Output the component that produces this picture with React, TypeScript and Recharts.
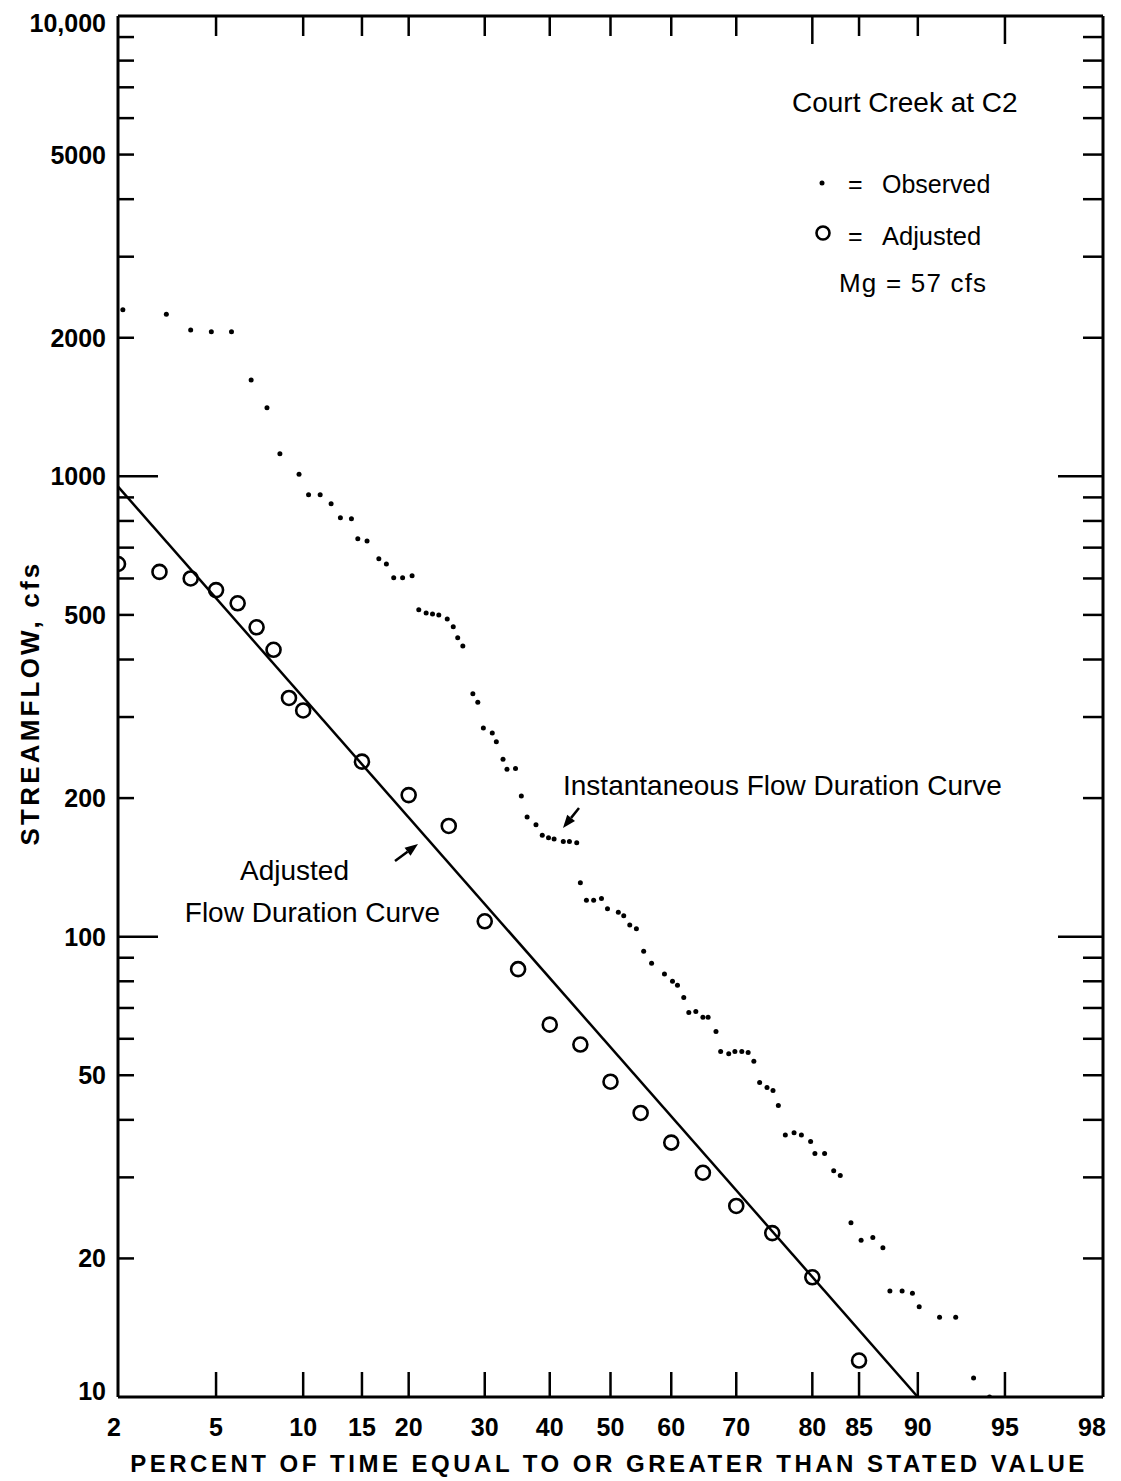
import React from "react";
import { ScatterChart, Scatter, XAxis, YAxis } from "recharts";

// percent of time scale (normal probability paper)
const xTickPct = [2, 5, 10, 15, 20, 30, 40, 50, 60, 70, 80, 85, 90, 95, 98];
const yTicks = [10, 20, 30, 40, 50, 60, 70, 80, 90, 100, 200, 300, 400, 500, 600, 700, 800, 900, 1000, 2000, 3000, 4000, 5000, 6000, 7000, 8000, 9000, 10000];
const yLabels = [10, 20, 50, 100, 200, 500, 1000, 2000, 5000, 10000];

// observed (instantaneous) flow duration points
const obsPct = [2.1, 3.2, 4.0, 4.8, 5.7, 6.7, 7.6, 8.4, 9.7, 10.4, 11.3, 12.2, 13.0, 14.0, 14.6, 15.5, 16.7, 17.5, 18.3, 19.3, 20.4, 21.2, 22.1, 22.9, 23.7, 24.8, 25.6, 26.2, 26.9, 28.3, 29.0, 29.8, 31.1, 31.7, 32.7, 33.3, 34.6, 35.5, 36.4, 37.8, 38.8, 39.8, 40.7, 42.2, 43.2, 44.4, 45.0, 46.0, 47.2, 48.5, 49.5, 51.3, 52.2, 53.2, 54.3, 55.5, 56.8, 58.9, 60.2, 61.0, 62.0, 62.8, 63.9, 65.0, 65.8, 67.0, 67.7, 68.9, 69.8, 70.8, 71.7, 72.5, 73.3, 74.3, 75.1, 75.8, 76.7, 77.8, 78.7, 79.8, 80.3, 81.4, 82.4, 83.1, 84.2, 85.2, 86.3, 87.2, 87.8, 88.8, 89.6, 90.1, 91.5, 92.5, 93.5, 94.3];
const obsFlow = [2300, 2250, 2080, 2060, 2060, 1620, 1410, 1120, 1010, 912, 912, 872, 813, 809, 732, 724, 662, 645, 602, 602, 608, 513, 505, 502, 500, 490, 471, 446, 428, 337, 323, 284, 277, 265, 243, 231, 232, 202, 182, 175, 166, 164, 163, 161, 161, 160, 131, 120, 120, 121, 115, 113, 111, 106, 104, 93, 87.5, 83, 80, 78.4, 73.8, 68.4, 68.8, 66.8, 66.8, 62.2, 56.3, 55.7, 56.3, 56.3, 56, 53.6, 48.2, 47, 46.3, 43, 37.1, 37.5, 37.1, 35.9, 33.8, 33.8, 31, 30.3, 23.9, 21.9, 22.2, 21.1, 17, 17, 16.8, 15.7, 14.9, 14.9, 11, 10];

// adjusted points
const adjPct = [2, 3, 4, 5, 6, 7, 8, 9, 10, 15, 20, 25, 30, 35, 40, 45, 50, 55, 60, 65, 70, 75, 80, 85];
const adjFlow = [645, 620, 600, 566, 530, 470, 420, 330, 310, 240, 203, 174, 108, 85, 64.4, 58.3, 48.4, 41.4, 35.7, 30.7, 26, 22.7, 18.2, 12];

// adjusted flow duration curve (straight line on this paper)
const linePct = [2, 90];
const lineFlow = [950, 10];

// inverse normal cdf (Acklam)
function probit(p: number) {
  const a = [-39.69683028665376, 220.9460984245205, -275.9285104469687, 138.357751867269, -30.66479806614716, 2.506628277459239];
  const b = [-54.47609879822406, 161.5858368580409, -155.6989798598866, 66.80131188771972, -13.28068155288572];
  const c = [-0.007784894002430293, -0.3223964580411365, -2.400758277161838, -2.549732539343734, 4.374664141464968, 2.938163982698783];
  const d = [0.007784695709041462, 0.3224671290700398, 2.445134137142996, 3.754408661907416];
  const pl = 0.02425;
  if (p < pl) {
    const q = Math.sqrt(-2 * Math.log(p));
    return (((((c[0] * q + c[1]) * q + c[2]) * q + c[3]) * q + c[4]) * q + c[5]) / ((((d[0] * q + d[1]) * q + d[2]) * q + d[3]) * q + 1);
  }
  if (p <= 1 - pl) {
    const q = p - 0.5;
    const r = q * q;
    return ((((((a[0] * r + a[1]) * r + a[2]) * r + a[3]) * r + a[4]) * r + a[5]) * q) / (((((b[0] * r + b[1]) * r + b[2]) * r + b[3]) * r + b[4]) * r + 1);
  }
  const q = Math.sqrt(-2 * Math.log(1 - p));
  return -(((((c[0] * q + c[1]) * q + c[2]) * q + c[3]) * q + c[4]) * q + c[5]) / ((((d[0] * q + d[1]) * q + d[2]) * q + d[3]) * q + 1);
}

const toZ = (pct: number) => probit(pct / 100);
const xTickZ = xTickPct.map(toZ);
const xDomain = [toZ(2), toZ(98)];

const observed = obsPct.map((p, i) => ({ z: toZ(p), flow: obsFlow[i] }));
const adjusted = adjPct.map((p, i) => ({ z: toZ(p), flow: adjFlow[i] }));
const fitLine = linePct.map((p, i) => ({ z: toZ(p), flow: lineFlow[i] }));

const FONT = "'Liberation Sans', Arial, sans-serif";
const frame = { stroke: "#000", strokeWidth: 3 };

const pctOf = (v: number) => xTickPct[xTickZ.findIndex((z) => Math.abs(z - v) < 1e-6)];

const LeftTick = ({ x, y, payload }: any) => {
  const v = payload.value;
  const long = v === 100 || v === 1000;
  const edge = v === 10 || v === 10000;
  return (
    <g>
      {!edge && <line x1={x} x2={x + (long ? 40 : 16)} y1={y} y2={y} stroke="#000" strokeWidth={2.5} />}
      {yLabels.includes(v) && (
        <text x={x - 12} y={y} dy={v === 10000 ? 16 : v === 10 ? 3 : 9} textAnchor="end" fontSize={25} fontWeight="bold" fontFamily={FONT} fill="#000">
          {v === 10000 ? "10,000" : v}
        </text>
      )}
    </g>
  );
};

const RightTick = ({ x, y, payload }: any) => {
  const v = payload.value;
  if (v === 10 || v === 10000) return <g />;
  const long = v === 100 || v === 1000;
  return <line x1={x} x2={x - (long ? 45 : 20)} y1={y} y2={y} stroke="#000" strokeWidth={2.5} />;
};

const BottomTick = ({ x, y, payload }: any) => {
  const p = pctOf(payload.value);
  const edge = p === 2 || p === 98;
  const shift = p === 98 ? -11 : p === 2 ? -4 : 0;
  return (
    <g>
      {!edge && <line x1={x} x2={x} y1={y} y2={y - 25} stroke="#000" strokeWidth={2.5} />}
      <text x={x + shift} y={y + 39} textAnchor="middle" fontSize={25} fontWeight="bold" fontFamily={FONT} fill="#000">
        {p}
      </text>
    </g>
  );
};

const TopTick = ({ x, y, payload }: any) => {
  const p = pctOf(payload.value);
  if (p === 2 || p === 98) return <g />;
  const len = p === 80 || p === 95 ? 28 : 20;
  return <line x1={x} x2={x} y1={y} y2={y + len} stroke="#000" strokeWidth={2.5} />;
};

const Dot = (props: any) => <circle cx={props.cx} cy={props.cy} r={2.5} fill="#000" />;
const Ring = (props: any) => <circle cx={props.cx} cy={props.cy} r={7} fill="none" stroke="#000" strokeWidth={2.6} />;
const NoMark = () => <g />;

const Arrow = ({ x1, y1, x2, y2 }: { x1: number; y1: number; x2: number; y2: number }) => {
  const ang = Math.atan2(y2 - y1, x2 - x1);
  const L = 13;
  const W = 5;
  const bx = x2 - L * Math.cos(ang);
  const by = y2 - L * Math.sin(ang);
  const px = -Math.sin(ang) * W;
  const py = Math.cos(ang) * W;
  return (
    <g>
      <line x1={x1} y1={y1} x2={bx} y2={by} stroke="#000" strokeWidth={2.5} />
      <polygon points={`${x2},${y2} ${bx + px},${by + py} ${bx - px},${by - py}`} fill="#000" />
    </g>
  );
};

export default function App() {
  return (
    <div style={{ position: "relative", width: 1113, height: 1473, background: "#fff" }}>
      <ScatterChart width={1113} height={1473} margin={{ top: 0, right: 0, bottom: 0, left: 0 }}>
        <XAxis
          xAxisId="b"
          type="number"
          dataKey="z"
          domain={xDomain}
          allowDataOverflow
          ticks={xTickZ}
          interval={0}
          height={84}
          tickSize={0}
          tickMargin={0}
          tick={BottomTick}
          axisLine={frame}
        />
        <XAxis
          xAxisId="t"
          orientation="top"
          type="number"
          dataKey="z"
          domain={xDomain}
          allowDataOverflow
          ticks={xTickZ}
          interval={0}
          height={8}
          tickSize={0}
          tickMargin={0}
          tick={TopTick}
          axisLine={frame}
        />
        <YAxis
          yAxisId="l"
          type="number"
          dataKey="flow"
          scale="log"
          domain={[10, 10000]}
          allowDataOverflow
          ticks={yTicks}
          interval={0}
          width={110}
          tickSize={0}
          tickMargin={0}
          tick={LeftTick}
          axisLine={frame}
        />
        <YAxis
          yAxisId="r"
          orientation="right"
          type="number"
          dataKey="flow"
          scale="log"
          domain={[10, 10000]}
          allowDataOverflow
          ticks={yTicks}
          interval={0}
          width={18}
          tickSize={0}
          tickMargin={0}
          tick={RightTick}
          axisLine={frame}
        />
        <Scatter xAxisId="t" yAxisId="r" data={[]} shape={NoMark} isAnimationActive={false} />
        <Scatter
          xAxisId="b"
          yAxisId="l"
          data={fitLine}
          line={{ stroke: "#000", strokeWidth: 2.5 }}
          shape={NoMark}
          isAnimationActive={false}
        />
        <Scatter xAxisId="b" yAxisId="l" data={observed} shape={Dot} isAnimationActive={false} />
        <Scatter xAxisId="b" yAxisId="l" data={adjusted} shape={Ring} isAnimationActive={false} />
      </ScatterChart>

      <svg
        width={1113}
        height={1473}
        style={{ position: "absolute", left: 0, top: 0, pointerEvents: "none" }}
        fontFamily={FONT}
        fill="#000"
      >
        {/* axis titles */}
        <text x={22} y={695} transform="rotate(-90 22 695)" textAnchor="middle" dominantBaseline="central" fontSize={26} fontWeight="bold" letterSpacing={3.2}>
          STREAMFLOW, cfs
        </text>
        <text x={601} y={1464} textAnchor="middle" fontSize={24} fontWeight="bold" letterSpacing={3.5}>
          PERCENT OF TIME EQUAL TO OR GREATER THAN STATED VALUE
        </text>

        {/* legend block */}
        <text x={784} y={104} fontSize={28}>Court Creek at C2</text>
        <circle cx={814} cy={175} r={2.5} />
        <text x={840} y={185} fontSize={25}>=</text>
        <text x={874} y={185} fontSize={25}>Observed</text>
        <circle cx={815} cy={225} r={6.5} fill="none" stroke="#000" strokeWidth={2.6} />
        <text x={840} y={237} fontSize={25}>=</text>
        <text x={874} y={237} fontSize={25.5}>Adjusted</text>
        <text x={831} y={284} fontSize={26} letterSpacing={1.2}>Mg = 57 cfs</text>

        {/* annotations */}
        <text x={555} y={787} fontSize={28}>Instantaneous Flow Duration Curve</text>
        <Arrow x1={571} y1={800} x2={555} y2={820} />
        <text x={232} y={872} fontSize={28}>Adjusted</text>
        <text x={432} y={914} textAnchor="end" fontSize={28}>Flow Duration Curve</text>
        <Arrow x1={387} y1={853} x2={410} y2={836} />
      </svg>
    </div>
  );
}
